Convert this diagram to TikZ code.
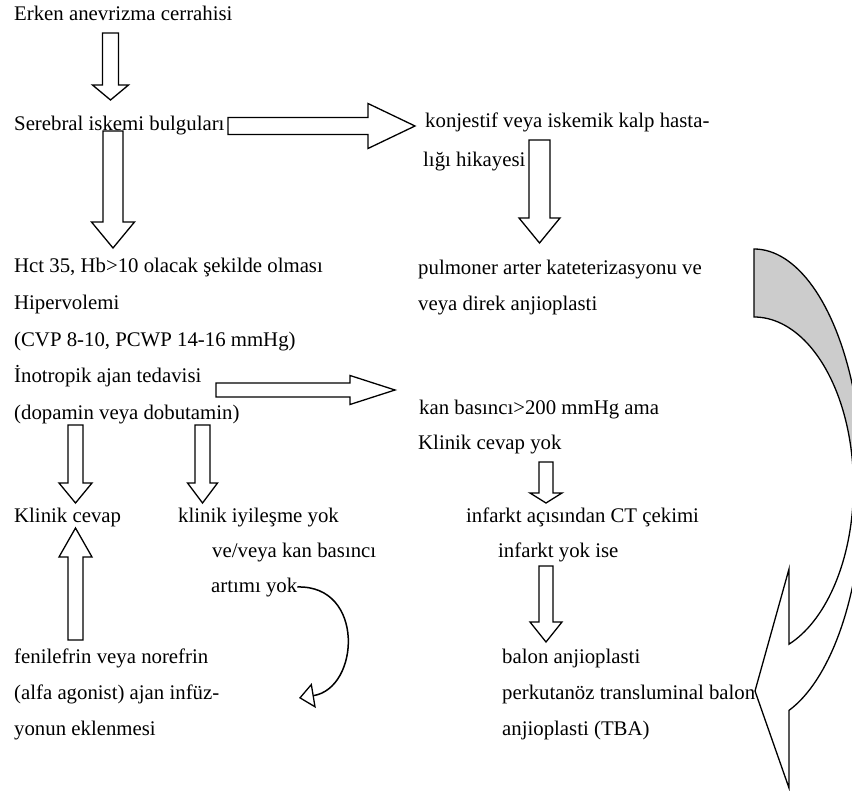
\documentclass[tikz,border=0pt]{standalone}
\usepackage{fontspec}
\setmainfont{Liberation Serif}
\usetikzlibrary{arrows.meta}
\tikzset{
  txt/.style={font=\fontsize{20.8}{24}\selectfont, anchor=west, inner sep=0pt, text height=14.5pt, text depth=4.5pt},
  blk/.style={draw=black, line width=1.3pt, fill=white, line join=miter},
  thin/.style={draw=black, line width=1.5pt},
}
\newcommand\blkdown[6]{\draw[blk] ({#1-#5},#2) -- ({#1+#5},#2) -- ({#1+#5},#3) -- ({#1+#6},#3) -- (#1,#4) -- ({#1-#6},#3) -- ({#1-#5},#3) -- cycle;}
\newcommand\blkright[6]{\draw[blk] (#2,{#1-#5}) -- (#3,{#1-#5}) -- (#3,{#1-#6}) -- (#4,#1) -- (#3,{#1+#6}) -- (#3,{#1+#5}) -- (#2,{#1+#5}) -- cycle;}
\begin{document}
\begin{tikzpicture}[x=1pt,y=-1pt]
\useasboundingbox[fill=white] (0,0) rectangle (852,791);
% text
\node[txt] (erken) at (14,16) {Erken anevrizma cerrahisi};
\node[txt] (sereb) at (14,126) {Serebral iskemi bulguları};
\node[txt] (konj) at (425,123) {konjestif veya iskemik kalp hasta-};
\node[txt] (ligi) at (423,162) {lığı hikayesi};
\node[txt] (hct) at (14,268) {Hct 35, Hb>10 olacak şekilde olması};
\node[txt] (hiper) at (14,305) {Hipervolemi};
\node[txt] (cvp) at (14,342) {(CVP 8-10, PCWP 14-16 mmHg)};
\node[txt] (inot) at (14,378) {İnotropik ajan tedavisi};
\node[txt] (dopa) at (14,415) {(dopamin veya dobutamin)};
\node[txt] (pulm) at (418,270) {pulmoner arter kateterizasyonu ve};
\node[txt] (veya) at (418,306) {veya direk anjioplasti};
\node[txt] (kan) at (419,410) {kan basıncı>200 mmHg ama};
\node[txt] (klyok) at (418,445) {Klinik cevap yok};
\node[txt] (klc) at (14,517) {Klinik cevap};
\node[txt] (kliy) at (178,517) {klinik iyileşme yok};
\node[txt] (infct) at (466,517) {infarkt açısından CT çekimi};
\node[txt] (vevk) at (212,553) {ve/veya kan basıncı};
\node[txt] (infy) at (498,553) {infarkt yok ise};
\node[txt] (artimi) at (211,587) {artımı yok};
\node[txt] (fen) at (14,658) {fenilefrin veya norefrin};
\node[txt] (alfa) at (14,694) {(alfa agonist) ajan infüz-};
\node[txt] (yonun) at (14,730) {yonun eklenmesi};
\node[txt] (balon) at (502,658) {balon anjioplasti};
\node[txt] (perk) at (502,694) {perkutanöz transluminal balon};
\node[txt] (tba) at (502,730) {anjioplasti (TBA)};
% block arrows
\blkdown{110.5}{33}{85}{100}{8}{18}
\blkright{126}{228}{368}{415}{8.5}{22.5}
\blkdown{113}{131}{222}{248}{10}{21.5}
\blkdown{539.5}{140}{218}{243}{10.5}{20.5}
\blkright{390}{216}{350}{395}{7}{14.5}
\blkdown{75.5}{425}{483}{503}{7.5}{16.5}
\blkdown{202.5}{425}{483}{503}{7.5}{15}
\blkdown{546}{462}{493}{503}{7}{16}
\blkdown{546}{566}{622}{642}{7}{16}
\blkdown{75.5}{640}{557}{528}{7.5}{16.5}
% small curved arrow
\coordinate (cend) at (299,698);
\draw[thin, -{Triangle[open, length=15pt, width=25pt, line width=1.3pt]}] (artimi.east) .. controls (365,585) and (360,688) .. (cend);
% big curved arrow
\begin{scope}
\clip (0,0) rectangle (852,791);
\fill[gray!40] (754,249) -- plot[domain=0:90, samples=40] ({754+108.8*sin(\x)},{486-237*cos(\x)})
  -- plot[domain=90:0, samples=40] ({754+99.5*sin(\x)},{486-169*cos(\x)}) -- cycle;
\draw[line width=1.3pt, line join=miter] (754,249) -- plot[domain=0:161.23, samples=80] ({754+108.8*sin(\x)},{486-237*cos(\x)})
  -- (789,788) -- (755,691) -- (789,569) -- (789,644)
  -- plot[domain=159.41:0, samples=80] ({754+99.5*sin(\x)},{486-169*cos(\x)}) -- cycle;
\end{scope}
\end{tikzpicture}
\end{document}
